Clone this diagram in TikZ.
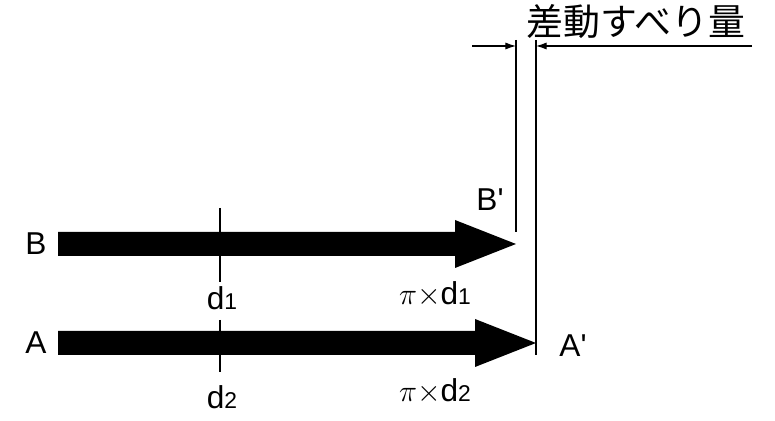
\documentclass[tikz,border=0pt]{standalone}
\usepackage{fontspec}
\setmainfont{Liberation Sans}
\newfontfamily\cjk{Noto Sans CJK JP}
\usetikzlibrary{arrows.meta}
\begin{document}
\begin{tikzpicture}[x=0.02cm,y=-0.02cm,
  lbl/.style={font=\fontsize{18}{20}\selectfont, inner sep=0pt},
  thin/.style={line width=0.6pt},
  bigarrow/.style={line width=0pt, fill=black},
  dim/.style={line width=0.6pt,-{Latex[length=6pt,width=4pt]}}]
\useasboundingbox (0,0) rectangle (775,421);
% arrows
\fill[bigarrow] (58,232) -- (455,232) -- (455,220) -- (516,244) -- (455,268) -- (455,256) -- (58,256) -- cycle;
\fill[bigarrow] (58,331) -- (475,331) -- (475,319) -- (536,343) -- (475,367) -- (475,355) -- (58,355) -- cycle;
% vertical lines
\coordinate (vb) at (516,40); \coordinate (vbb) at (516,232);
\coordinate (va) at (536,40); \coordinate (vaa) at (536,355);
\draw[thin] (vb) -- (vbb);
\draw[thin] (va) -- (vaa);
\draw[thin] (220,208) -- (220,282);
\draw[thin] (220,320) -- (220,372);
% dimension
\coordinate (dl) at (472,46); \coordinate (dr) at (752,46);
\draw[dim] (dl) -- (516,46);
\draw[dim] (dr) -- (536,46);
\node[lbl,font=\cjk\fontsize{21}{23}\selectfont] (t) at (636,22) {差動すべり量};
% labels
\node[lbl] (B) at (36,244) {B};
\node[lbl] (A) at (36,343) {A};
\node[lbl] (Bp) at (490,200) {B\textquotesingle};
\node[lbl] (Ap) at (573,346) {A\textquotesingle};
\node[lbl] (d1) at (222,298) {d{\fontsize{13}{15}\selectfont 1}};
\node[lbl] (d2) at (222,397) {d{\fontsize{13}{15}\selectfont 2}};
\node[lbl] (p1) at (435,294) {$\pi$$\times$d{\fontsize{13}{15}\selectfont 1}};
\node[lbl] (p2) at (435,391) {$\pi$$\times$d{\fontsize{13}{15}\selectfont 2}};
\end{tikzpicture}
\end{document}
